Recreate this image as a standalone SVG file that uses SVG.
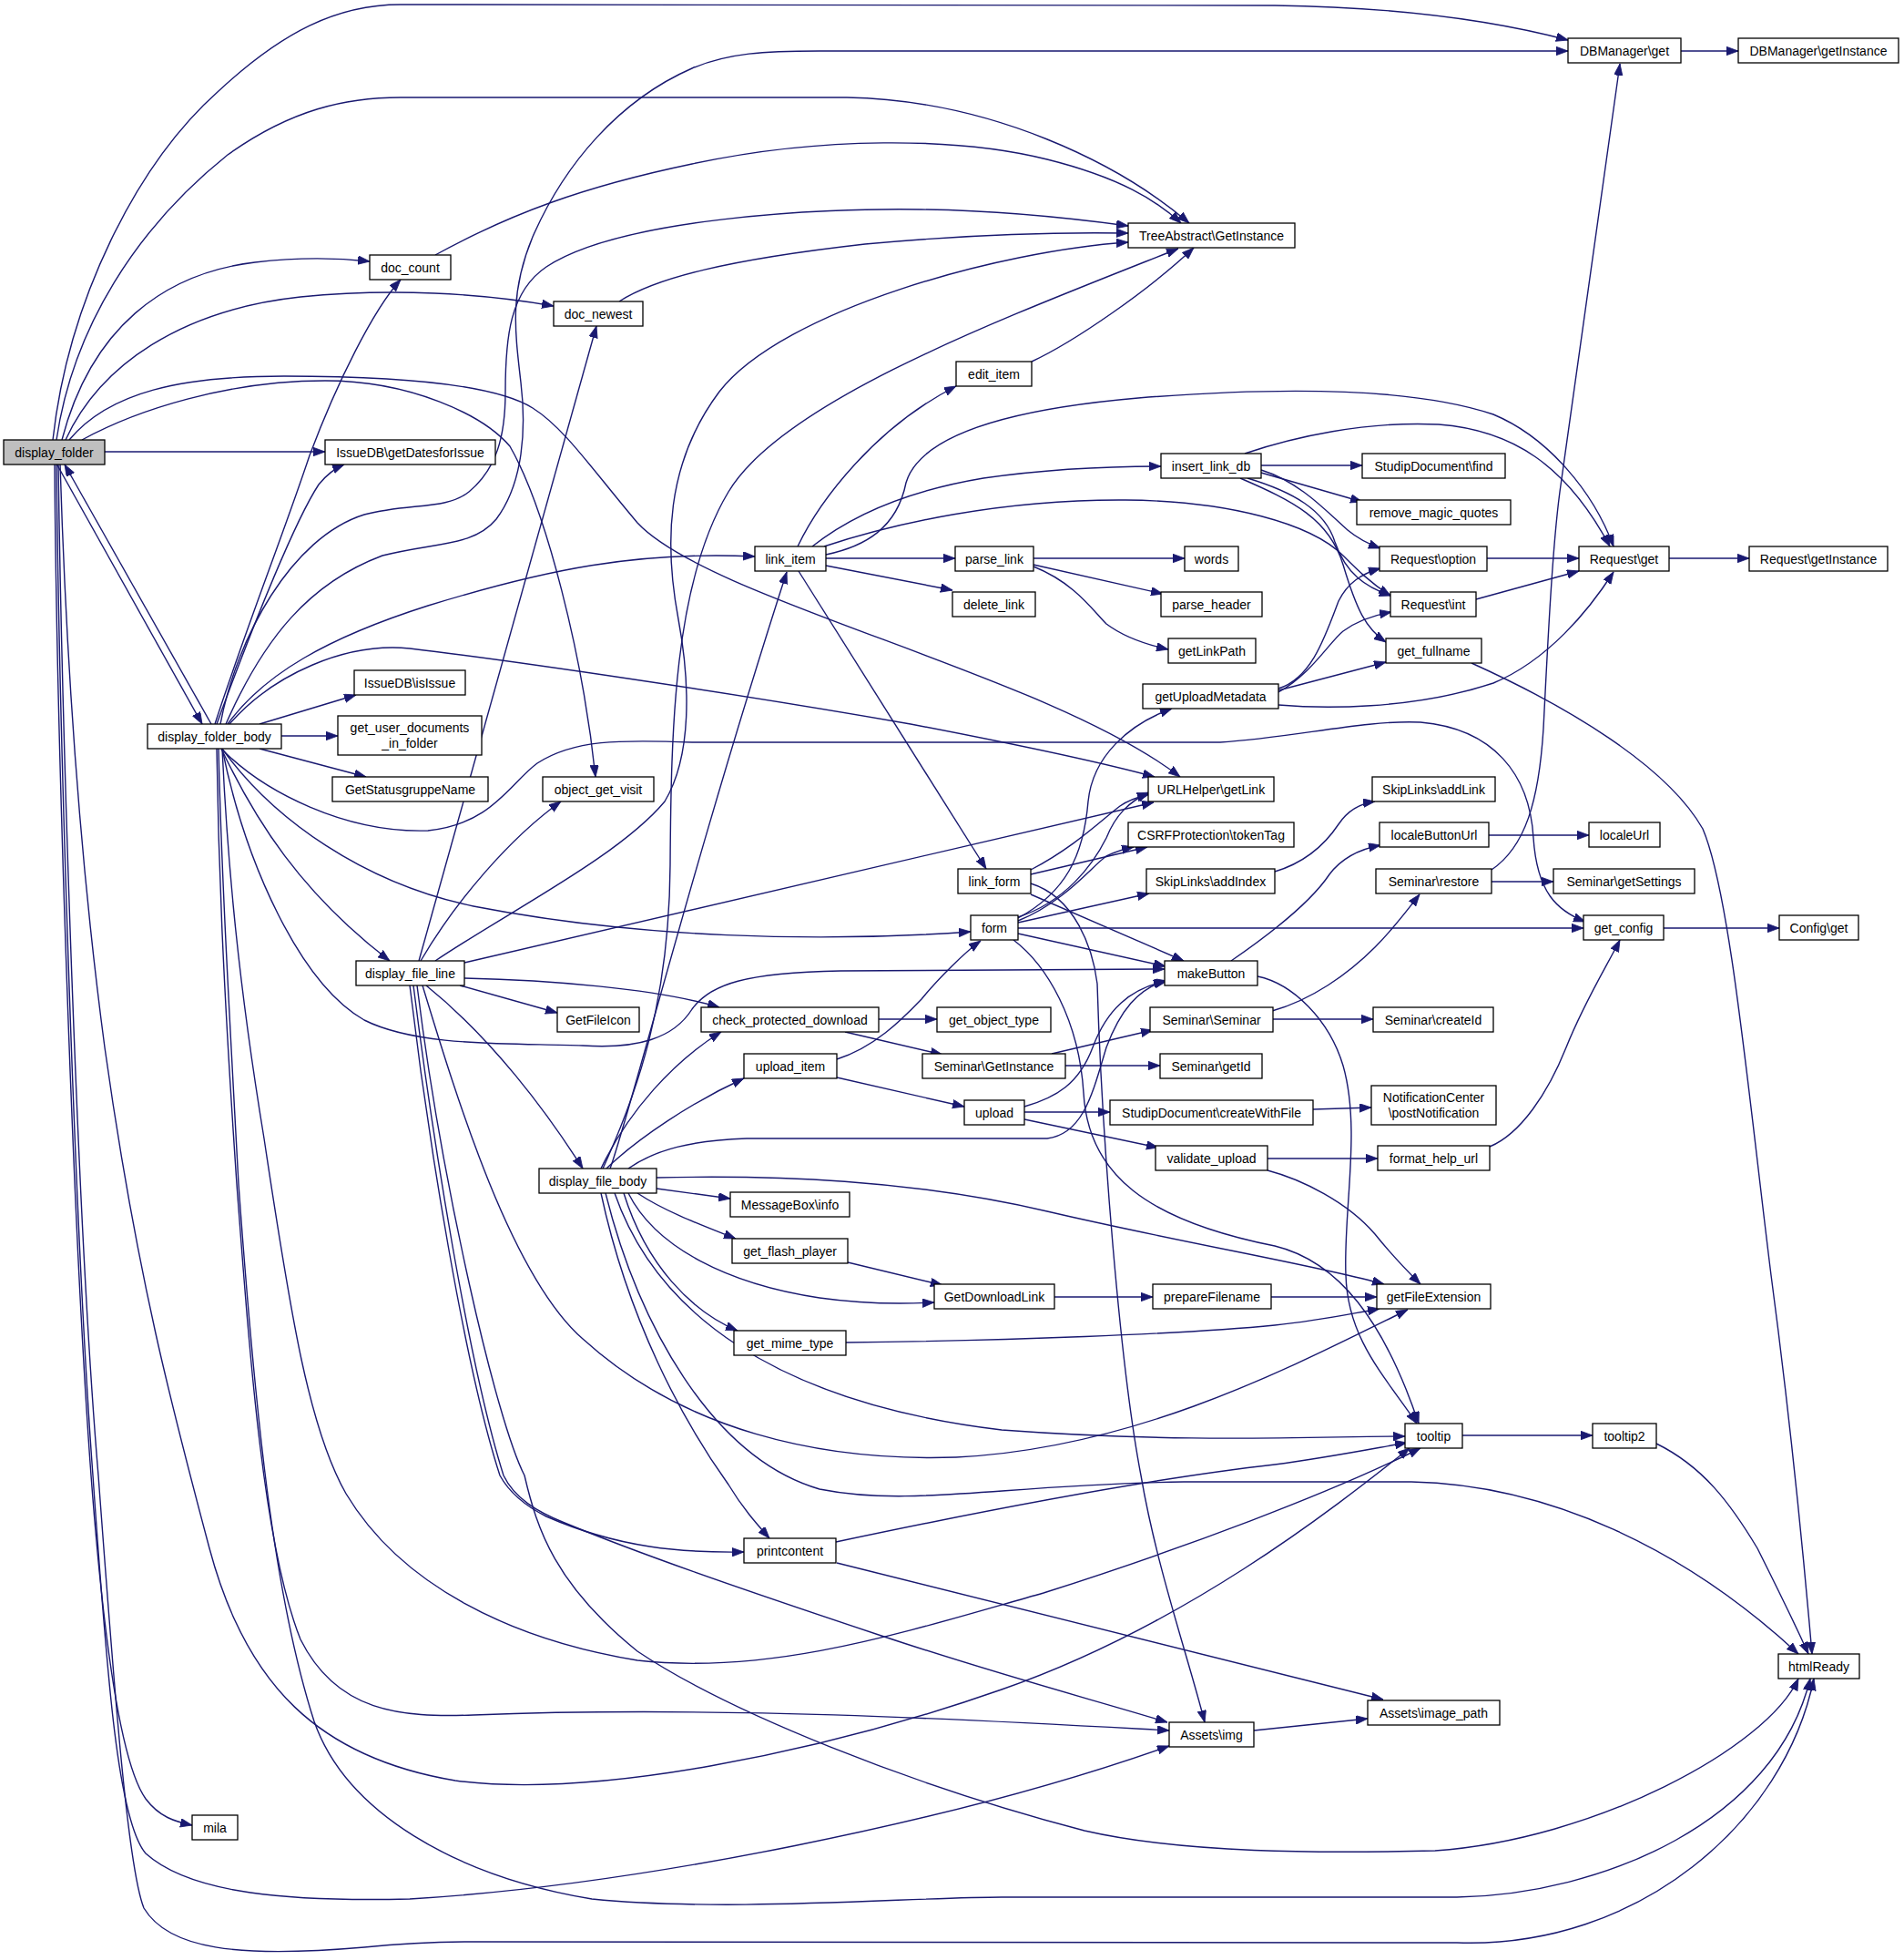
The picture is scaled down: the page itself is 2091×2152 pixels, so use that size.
<svg xmlns="http://www.w3.org/2000/svg" width="2091" height="2152" viewBox="0 0 2091 2152">
<style>
.n rect{fill:#ffffff;stroke:#000000;stroke-width:1.3}
.n.root rect{fill:#bfbfbf}
.n text{font-family:"Liberation Sans",Arial,sans-serif;font-size:14px;text-anchor:middle;fill:#000000}
.e path{fill:none;stroke:#191970;stroke-width:1.4;marker-end:url(#arr)}
</style>
<defs>
<marker id="arr" markerWidth="14" markerHeight="10" refX="13" refY="4.75" orient="auto" markerUnits="userSpaceOnUse">
<path d="M0,0 L13,4.75 L0,9.5 z" fill="#191970" stroke="#191970" stroke-width="0.8"/>
</marker>
</defs>
<rect x="0" y="0" width="2091" height="2152" fill="#ffffff"/>
<g id="connectors" class="e">
<!-- display_folder -->
<path d="M58,483 C75,330 150,180 240,100 C310,35 370,5 440,5 L1400,6 C1550,8 1650,25 1722,44"/>
<path d="M62,483 C80,360 150,250 250,170 C320,120 380,107 440,107 L930,107 C1090,110 1230,180 1306,245"/>
<path d="M68,483 C100,360 180,300 280,288 C330,282 370,283 406,287"/>
<path d="M72,483 C110,400 200,340 330,326 C430,316 530,322 608,336"/>
<path d="M76,483 C120,430 200,413 312,413 C420,413 540,420 585,448 C620,470 650,515 700,574 C780,660 1150,740 1296,853"/>
<path d="M90,483 C150,450 250,418 357,418 C450,418 530,455 560,490 C600,560 640,720 654,853"/>
<path d="M115,496 L357,496"/>
<path d="M62,509 L222,795"/>
<path d="M60,509 C62,800 80,1350 100,1620 C115,1820 135,1940 160,1975 C175,1995 192,2000 211,2004"/>
<path d="M62,509 C65,800 82,1350 102,1620 C118,1850 130,2000 160,2035 C210,2080 320,2088 450,2085 C700,2070 1050,2000 1284,1917"/>
<path d="M64,509 C68,800 85,1350 108,1620 C125,1850 140,2050 158,2095 C185,2140 260,2150 400,2138 C440,2134 470,2132 520,2132 L1600,2133 C1800,2140 1960,2000 1992,1843"/>
<path d="M66,509 C75,800 95,1000 115,1150 C150,1400 190,1550 230,1700 C270,1850 350,1930 500,1955 C650,1975 900,1925 1100,1855 C1300,1785 1460,1660 1548,1590"/>
<!-- display_folder_body -->
<path d="M232,795 L71,510"/>
<path d="M238,795 C280,680 325,570 350,532 C358,522 366,515 378,510"/>
<path d="M236,795 C270,690 310,590 340,500 C370,420 410,340 440,307"/>
<path d="M248,795 C290,700 340,640 420,610 C480,595 520,600 545,570 C575,530 578,470 572,420 C565,360 560,320 585,260 C620,180 680,110 760,75 C800,58 840,56 900,56 L1722,56"/>
<path d="M242,795 C260,700 320,590 400,565 C450,552 490,560 515,540 C545,515 555,480 555,430 C555,370 560,320 600,293 C680,240 900,228 1012,230 C1100,231 1180,240 1239,248"/>
<path d="M250,795 C290,740 360,700 470,665 C600,625 700,605 829,611"/>
<path d="M285,795 L391,763"/>
<path d="M309,808 L371,808"/>
<path d="M285,822 L402,853"/>
<path d="M252,795 C300,740 380,705 450,712 C560,725 800,760 1000,795 C1120,818 1220,840 1268,853"/>
<path d="M243,822 C290,870 380,915 470,912 C540,905 560,860 590,838 C630,812 680,812 760,815 L1340,815 C1420,810 1500,790 1560,793 C1640,800 1680,850 1684,920 C1688,980 1710,1000 1741,1012"/>
<path d="M243,822 C280,900 330,980 428,1055"/>
<path d="M244,822 C300,900 400,970 520,995 C700,1030 900,1035 1066,1023"/>
<path d="M244,822 C270,950 330,1080 400,1120 C460,1150 560,1145 640,1148 C700,1152 740,1140 760,1108 C780,1080 820,1068 923,1066 L1279,1064"/>
<path d="M238,822 C240,950 245,1080 260,1300 C275,1500 290,1700 330,1800 C370,1880 440,1886 520,1883 C800,1872 1100,1890 1284,1900"/>
<path d="M240,822 C243,950 250,1080 262,1300 C280,1550 300,1750 345,1890 C380,1990 500,2060 650,2085 C800,2100 1000,2083 1100,2083 L1600,2083 C1760,2080 1950,2000 1988,1843"/>
<path d="M244,822 C250,950 262,1080 290,1250 C320,1450 340,1570 380,1640 C440,1740 560,1800 700,1823 C850,1840 1000,1790 1146,1749 C1300,1700 1460,1640 1560,1590"/>
<!-- doc_count / doc_newest -->
<path d="M478,280 C560,235 640,205 760,180 C900,150 1050,150 1150,175 C1230,195 1270,220 1297,245"/>
<path d="M680,331 C720,305 800,285 950,268 C1080,256 1180,255 1239,256"/>
<!-- display_file_line -->
<path d="M460,1055 L655,358"/>
<path d="M462,1055 C500,990 560,920 616,880"/>
<path d="M478,1055 C560,1000 680,940 730,880 C760,830 758,750 745,680 C730,600 730,510 790,430 C860,340 1100,275 1239,266"/>
<path d="M510,1057 L1267,881"/>
<path d="M510,1074 C600,1076 720,1085 790,1106"/>
<path d="M505,1082 L612,1112"/>
<path d="M468,1082 C540,1140 600,1220 640,1283"/>
<path d="M464,1082 C500,1200 560,1400 640,1470 C750,1570 900,1605 1050,1600 C1250,1590 1420,1500 1546,1438"/>
<path d="M450,1082 C470,1250 510,1500 549,1620 C560,1640 580,1655 600,1665 C680,1700 750,1705 817,1704"/>
<path d="M454,1082 C475,1250 515,1500 553,1620 C565,1645 590,1660 620,1672 C700,1705 800,1740 968,1796 C1100,1840 1200,1866 1282,1891"/>
<path d="M458,1082 C485,1300 545,1560 576,1620 C590,1680 610,1740 700,1813 C800,1880 1000,1960 1191,2010 C1300,2035 1450,2035 1576,2032 C1750,2020 1940,1920 1975,1843"/>
<!-- display_file_body -->
<path d="M670,1283 C690,1230 760,950 864,628"/>
<path d="M662,1283 C700,1200 735,1100 736,950 C737,800 740,640 800,540 C860,440 1100,350 1294,273"/>
<path d="M660,1283 C690,1220 740,1165 792,1133"/>
<path d="M666,1283 C700,1250 760,1210 817,1184"/>
<path d="M690,1283 C720,1262 760,1252 820,1250 L1150,1250 C1190,1245 1200,1200 1215,1150 C1230,1110 1250,1085 1280,1077"/>
<path d="M721,1305 L802,1316"/>
<path d="M721,1293 C850,1290 1000,1295 1150,1330 C1300,1365 1450,1390 1520,1410"/>
<path d="M700,1310 C730,1330 770,1345 808,1360"/>
<path d="M690,1310 C720,1370 800,1410 900,1425 C950,1432 990,1432 1026,1430"/>
<path d="M685,1310 C710,1390 760,1440 810,1461"/>
<path d="M675,1310 C720,1440 850,1540 1100,1570 C1300,1585 1450,1577 1543,1577"/>
<path d="M665,1310 C700,1450 780,1600 900,1635 C1000,1655 1100,1630 1300,1627 L1550,1627 C1700,1630 1850,1700 1975,1816"/>
<path d="M660,1310 C690,1450 750,1560 800,1630 C815,1655 830,1672 845,1689"/>
<!-- link_item -->
<path d="M876,600 C900,550 960,470 1050,424"/>
<path d="M892,600 C930,570 990,540 1080,525 C1150,515 1220,512 1275,512"/>
<path d="M907,609 C950,600 985,580 995,530 C1010,480 1100,450 1250,437 C1400,425 1550,425 1640,455 C1700,480 1750,540 1772,600"/>
<path d="M905,600 C980,575 1100,548 1236,549 C1350,550 1440,575 1475,610 C1490,625 1505,640 1527,654"/>
<path d="M907,613 L1049,613"/>
<path d="M907,621 L1046,648"/>
<path d="M877,627 L1083,954"/>
<!-- edit_item / parse_link -->
<path d="M1133,397 C1180,375 1260,320 1311,272"/>
<path d="M1135,613 L1301,613"/>
<path d="M1135,620 L1277,652"/>
<path d="M1135,622 C1180,640 1200,670 1215,685 C1235,700 1260,708 1283,713"/>
<!-- insert_link_db -->
<path d="M1385,511 L1496,511"/>
<path d="M1385,519 L1496,551"/>
<path d="M1385,516 C1430,530 1460,565 1480,582 C1492,592 1505,598 1516,602"/>
<path d="M1370,525 C1420,540 1455,560 1466,595 C1478,630 1500,645 1528,654"/>
<path d="M1362,525 C1420,550 1460,570 1475,620 C1490,670 1500,690 1522,705"/>
<path d="M1367,498 C1420,480 1500,462 1580,466 C1660,472 1720,510 1768,600"/>
<!-- Request -->
<path d="M1633,613 L1734,613"/>
<path d="M1621,658 L1734,627"/>
<path d="M1833,613 L1921,613"/>
<path d="M1616,728 C1720,775 1830,840 1870,910 C1900,980 1920,1200 1945,1400 C1965,1550 1980,1700 1990,1816"/>
<!-- getUploadMetadata -->
<path d="M1404,756 C1440,745 1455,700 1470,660 C1480,640 1495,630 1516,624"/>
<path d="M1404,760 C1440,740 1460,705 1475,693 C1490,682 1505,676 1528,672"/>
<path d="M1404,758 L1522,727"/>
<path d="M1404,774 C1450,778 1550,780 1640,750 C1700,725 1745,670 1772,628"/>
<!-- form -->
<path d="M1118,1008 C1170,980 1190,940 1195,880 C1200,830 1240,795 1287,778"/>
<path d="M1118,1007 C1170,990 1200,950 1215,920 C1225,895 1240,880 1262,870"/>
<path d="M1118,1011 C1170,990 1200,950 1215,940 C1225,935 1235,932 1245,930"/>
<path d="M1118,1013 L1262,981"/>
<path d="M1118,1019 L1739,1019"/>
<path d="M1118,1025 L1280,1061"/>
<path d="M1113,1032 C1150,1060 1185,1120 1190,1200 C1195,1290 1260,1340 1400,1368 C1470,1385 1520,1450 1558,1563"/>
<!-- link_form -->
<path d="M1132,955 C1180,930 1210,900 1230,885 C1240,878 1250,875 1262,872"/>
<path d="M1132,960 L1260,930"/>
<path d="M1132,982 L1300,1055"/>
<path d="M1132,970 C1180,985 1200,1040 1205,1080 C1210,1250 1230,1500 1253,1620 C1270,1720 1305,1820 1323,1891"/>
<!-- makeButton -->
<path d="M1352,1055 C1400,1022 1440,990 1460,960 C1475,940 1495,932 1516,928"/>
<path d="M1381,1072 C1420,1080 1460,1120 1475,1170 C1495,1240 1475,1330 1478,1400 C1480,1470 1520,1510 1556,1563"/>
<!-- misc -->
<path d="M1400,957 C1440,945 1460,920 1470,905 C1480,890 1495,882 1510,880"/>
<path d="M1635,917 L1745,917"/>
<path d="M1638,955 C1675,930 1690,880 1695,800 C1700,700 1705,600 1713,540 L1779,70"/>
<path d="M1638,968 L1706,968"/>
<path d="M1827,1019 L1954,1019"/>
<path d="M1397,1110 C1440,1098 1480,1070 1510,1040 C1530,1020 1545,1000 1559,982"/>
<path d="M1397,1119 L1508,1119"/>
<path d="M1155,1157 L1266,1131"/>
<path d="M1170,1170 L1274,1170"/>
<path d="M965,1119 L1029,1119"/>
<path d="M928,1133 L1035,1158"/>
<path d="M919,1163 C960,1150 990,1120 1012,1097 C1030,1075 1060,1045 1077,1033"/>
<path d="M919,1183 L1059,1215"/>
<path d="M1125,1215 C1160,1205 1185,1190 1200,1150 C1215,1110 1240,1085 1282,1077"/>
<path d="M1125,1221 L1219,1221"/>
<path d="M1125,1229 L1272,1260"/>
<path d="M1442,1218 L1506,1216"/>
<path d="M1392,1272 L1513,1272"/>
<path d="M1392,1285 C1430,1295 1480,1320 1510,1355 C1530,1380 1545,1395 1560,1410"/>
<path d="M1636,1259 C1670,1245 1700,1200 1720,1150 C1740,1100 1765,1060 1779,1032"/>
<path d="M931,1386 L1035,1411"/>
<path d="M1158,1424 L1266,1424"/>
<path d="M1395,1424 L1512,1424"/>
<path d="M929,1474 C1100,1472 1300,1465 1400,1455 C1450,1450 1480,1443 1515,1437"/>
<path d="M1606,1576 L1749,1576"/>
<path d="M1819,1585 C1870,1610 1900,1650 1930,1700 C1950,1740 1970,1780 1986,1816"/>
<path d="M918,1693 C1050,1665 1250,1625 1400,1608 C1460,1600 1510,1590 1545,1584"/>
<path d="M919,1716 L1519,1866"/>
<path d="M1377,1900 L1502,1887"/>
<path d="M1845,56 L1909,56"/>
</g>
<g id="n_display_folder" class="n root"><rect x="4" y="483" width="111" height="27"/><text x="59.5" y="501.5">display_folder</text></g>
<g id="n_doc_count" class="n"><rect x="406" y="280" width="89" height="27"/><text x="450.5" y="298.5">doc_count</text></g>
<g id="n_doc_newest" class="n"><rect x="608" y="331" width="98" height="27"/><text x="657" y="349.5">doc_newest</text></g>
<g id="n_getDatesforIssue" class="n"><rect x="357" y="483" width="187" height="27"/><text x="450.5" y="501.5">IssueDB\getDatesforIssue</text></g>
<g id="n_TreeAbstract_GetInstance" class="n"><rect x="1239" y="245" width="183" height="27"/><text x="1330.5" y="263.5">TreeAbstract\GetInstance</text></g>
<g id="n_edit_item" class="n"><rect x="1050" y="397" width="83" height="27"/><text x="1091.5" y="415.5">edit_item</text></g>
<g id="n_insert_link_db" class="n"><rect x="1275" y="498" width="110" height="27"/><text x="1330" y="516.5">insert_link_db</text></g>
<g id="n_DBManager_get" class="n"><rect x="1722" y="42" width="124" height="27"/><text x="1784" y="60.5">DBManager\get</text></g>
<g id="n_DBManager_getInstance" class="n"><rect x="1909" y="42" width="176" height="27"/><text x="1997" y="60.5">DBManager\getInstance</text></g>
<g id="n_StudipDocument_find" class="n"><rect x="1496" y="498" width="157" height="27"/><text x="1574.5" y="516.5">StudipDocument\find</text></g>
<g id="n_display_folder_body" class="n"><rect x="162" y="795" width="147" height="27"/><text x="235.5" y="813.5">display_folder_body</text></g>
<g id="n_isIssue" class="n"><rect x="389" y="736" width="122" height="27"/><text x="450" y="754.5">IssueDB\isIssue</text></g>
<g id="n_get_user_documents_in_folder" class="n"><rect x="371" y="786" width="158" height="43"/><text x="450" y="804">get_user_documents</text><text x="450" y="821">_in_folder</text></g>
<g id="n_GetStatusgruppeName" class="n"><rect x="365" y="853" width="171" height="27"/><text x="450.5" y="871.5">GetStatusgruppeName</text></g>
<g id="n_object_get_visit" class="n"><rect x="596" y="853" width="122" height="27"/><text x="657" y="871.5">object_get_visit</text></g>
<g id="n_display_file_line" class="n"><rect x="391" y="1055" width="119" height="27"/><text x="450.5" y="1073.5">display_file_line</text></g>
<g id="n_link_item" class="n"><rect x="829" y="600" width="78" height="27"/><text x="868" y="618.5">link_item</text></g>
<g id="n_parse_link" class="n"><rect x="1049" y="600" width="86" height="27"/><text x="1092" y="618.5">parse_link</text></g>
<g id="n_words" class="n"><rect x="1301" y="600" width="59" height="27"/><text x="1330.5" y="618.5">words</text></g>
<g id="n_delete_link" class="n"><rect x="1046" y="650" width="91" height="27"/><text x="1091.5" y="668.5">delete_link</text></g>
<g id="n_parse_header" class="n"><rect x="1275" y="650" width="111" height="27"/><text x="1330.5" y="668.5">parse_header</text></g>
<g id="n_getLinkPath" class="n"><rect x="1283" y="701" width="96" height="27"/><text x="1331" y="719.5">getLinkPath</text></g>
<g id="n_getUploadMetadata" class="n"><rect x="1255" y="751" width="149" height="27"/><text x="1329.5" y="769.5">getUploadMetadata</text></g>
<g id="n_URLHelper_getLink" class="n"><rect x="1261" y="853" width="138" height="27"/><text x="1330" y="871.5">URLHelper\getLink</text></g>
<g id="n_CSRFProtection_tokenTag" class="n"><rect x="1239" y="903" width="182" height="27"/><text x="1330" y="921.5">CSRFProtection\tokenTag</text></g>
<g id="n_link_form" class="n"><rect x="1052" y="954" width="80" height="27"/><text x="1092" y="972.5">link_form</text></g>
<g id="n_SkipLinks_addIndex" class="n"><rect x="1259" y="954" width="141" height="27"/><text x="1329.5" y="972.5">SkipLinks\addIndex</text></g>
<g id="n_form" class="n"><rect x="1066" y="1005" width="52" height="27"/><text x="1092" y="1023.5">form</text></g>
<g id="n_makeButton" class="n"><rect x="1279" y="1055" width="102" height="27"/><text x="1330" y="1073.5">makeButton</text></g>
<g id="n_remove_magic_quotes" class="n"><rect x="1490" y="549" width="169" height="27"/><text x="1574.5" y="567.5">remove_magic_quotes</text></g>
<g id="n_Request_option" class="n"><rect x="1515" y="600" width="118" height="27"/><text x="1574" y="618.5">Request\option</text></g>
<g id="n_Request_get" class="n"><rect x="1734" y="600" width="99" height="27"/><text x="1783.5" y="618.5">Request\get</text></g>
<g id="n_Request_getInstance" class="n"><rect x="1921" y="600" width="152" height="27"/><text x="1997" y="618.5">Request\getInstance</text></g>
<g id="n_Request_int" class="n"><rect x="1527" y="650" width="94" height="27"/><text x="1574" y="668.5">Request\int</text></g>
<g id="n_get_fullname" class="n"><rect x="1522" y="701" width="105" height="27"/><text x="1574.5" y="719.5">get_fullname</text></g>
<g id="n_SkipLinks_addLink" class="n"><rect x="1507" y="853" width="135" height="27"/><text x="1574.5" y="871.5">SkipLinks\addLink</text></g>
<g id="n_localeButtonUrl" class="n"><rect x="1515" y="903" width="120" height="27"/><text x="1575" y="921.5">localeButtonUrl</text></g>
<g id="n_localeUrl" class="n"><rect x="1745" y="903" width="78" height="27"/><text x="1784" y="921.5">localeUrl</text></g>
<g id="n_Seminar_restore" class="n"><rect x="1511" y="954" width="127" height="27"/><text x="1574.5" y="972.5">Seminar\restore</text></g>
<g id="n_Seminar_getSettings" class="n"><rect x="1706" y="954" width="155" height="27"/><text x="1783.5" y="972.5">Seminar\getSettings</text></g>
<g id="n_get_config" class="n"><rect x="1739" y="1005" width="88" height="27"/><text x="1783" y="1023.5">get_config</text></g>
<g id="n_Config_get" class="n"><rect x="1954" y="1005" width="87" height="27"/><text x="1997.5" y="1023.5">Config\get</text></g>
<g id="n_GetFileIcon" class="n"><rect x="612" y="1106" width="90" height="27"/><text x="657" y="1124.5">GetFileIcon</text></g>
<g id="n_display_file_body" class="n"><rect x="592" y="1283" width="129" height="27"/><text x="656.5" y="1301.5">display_file_body</text></g>
<g id="n_check_protected_download" class="n"><rect x="770" y="1106" width="195" height="27"/><text x="867.5" y="1124.5">check_protected_download</text></g>
<g id="n_get_object_type" class="n"><rect x="1029" y="1106" width="125" height="27"/><text x="1091.5" y="1124.5">get_object_type</text></g>
<g id="n_Seminar_Seminar" class="n"><rect x="1263" y="1106" width="135" height="27"/><text x="1330.5" y="1124.5">Seminar\Seminar</text></g>
<g id="n_upload_item" class="n"><rect x="817" y="1157" width="102" height="27"/><text x="868" y="1175.5">upload_item</text></g>
<g id="n_Seminar_GetInstance" class="n"><rect x="1013" y="1157" width="157" height="27"/><text x="1091.5" y="1175.5">Seminar\GetInstance</text></g>
<g id="n_Seminar_getId" class="n"><rect x="1274" y="1157" width="112" height="27"/><text x="1330" y="1175.5">Seminar\getId</text></g>
<g id="n_upload" class="n"><rect x="1059" y="1208" width="66" height="27"/><text x="1092" y="1226.5">upload</text></g>
<g id="n_StudipDocument_createWithFile" class="n"><rect x="1219" y="1208" width="223" height="27"/><text x="1330.5" y="1226.5">StudipDocument\createWithFile</text></g>
<g id="n_validate_upload" class="n"><rect x="1269" y="1258" width="123" height="27"/><text x="1330.5" y="1276.5">validate_upload</text></g>
<g id="n_MessageBox_info" class="n"><rect x="802" y="1309" width="131" height="27"/><text x="867.5" y="1327.5">MessageBox\info</text></g>
<g id="n_get_flash_player" class="n"><rect x="804" y="1360" width="127" height="27"/><text x="867.5" y="1378.5">get_flash_player</text></g>
<g id="n_GetDownloadLink" class="n"><rect x="1026" y="1410" width="132" height="27"/><text x="1092" y="1428.5">GetDownloadLink</text></g>
<g id="n_prepareFilename" class="n"><rect x="1266" y="1410" width="130" height="27"/><text x="1331" y="1428.5">prepareFilename</text></g>
<g id="n_get_mime_type" class="n"><rect x="806" y="1461" width="123" height="27"/><text x="867.5" y="1479.5">get_mime_type</text></g>
<g id="n_Seminar_createId" class="n"><rect x="1508" y="1106" width="132" height="27"/><text x="1574" y="1124.5">Seminar\createId</text></g>
<g id="n_NotificationCenter_postNotification" class="n"><rect x="1506" y="1192" width="137" height="43"/><text x="1574.5" y="1210">NotificationCenter</text><text x="1574.5" y="1227">\postNotification</text></g>
<g id="n_format_help_url" class="n"><rect x="1513" y="1258" width="123" height="27"/><text x="1574.5" y="1276.5">format_help_url</text></g>
<g id="n_getFileExtension" class="n"><rect x="1512" y="1410" width="125" height="27"/><text x="1574.5" y="1428.5">getFileExtension</text></g>
<g id="n_tooltip" class="n"><rect x="1543" y="1563" width="63" height="27"/><text x="1574.5" y="1581.5">tooltip</text></g>
<g id="n_tooltip2" class="n"><rect x="1749" y="1563" width="70" height="27"/><text x="1784" y="1581.5">tooltip2</text></g>
<g id="n_mila" class="n"><rect x="211" y="1993" width="50" height="27"/><text x="236" y="2011.5">mila</text></g>
<g id="n_printcontent" class="n"><rect x="817" y="1689" width="101" height="27"/><text x="867.5" y="1707.5">printcontent</text></g>
<g id="n_Assets_img" class="n"><rect x="1284" y="1891" width="93" height="27"/><text x="1330.5" y="1909.5">Assets\img</text></g>
<g id="n_Assets_image_path" class="n"><rect x="1502" y="1867" width="145" height="27"/><text x="1574.5" y="1885.5">Assets\image_path</text></g>
<g id="n_htmlReady" class="n"><rect x="1953" y="1816" width="89" height="27"/><text x="1997.5" y="1834.5">htmlReady</text></g>
</svg>
